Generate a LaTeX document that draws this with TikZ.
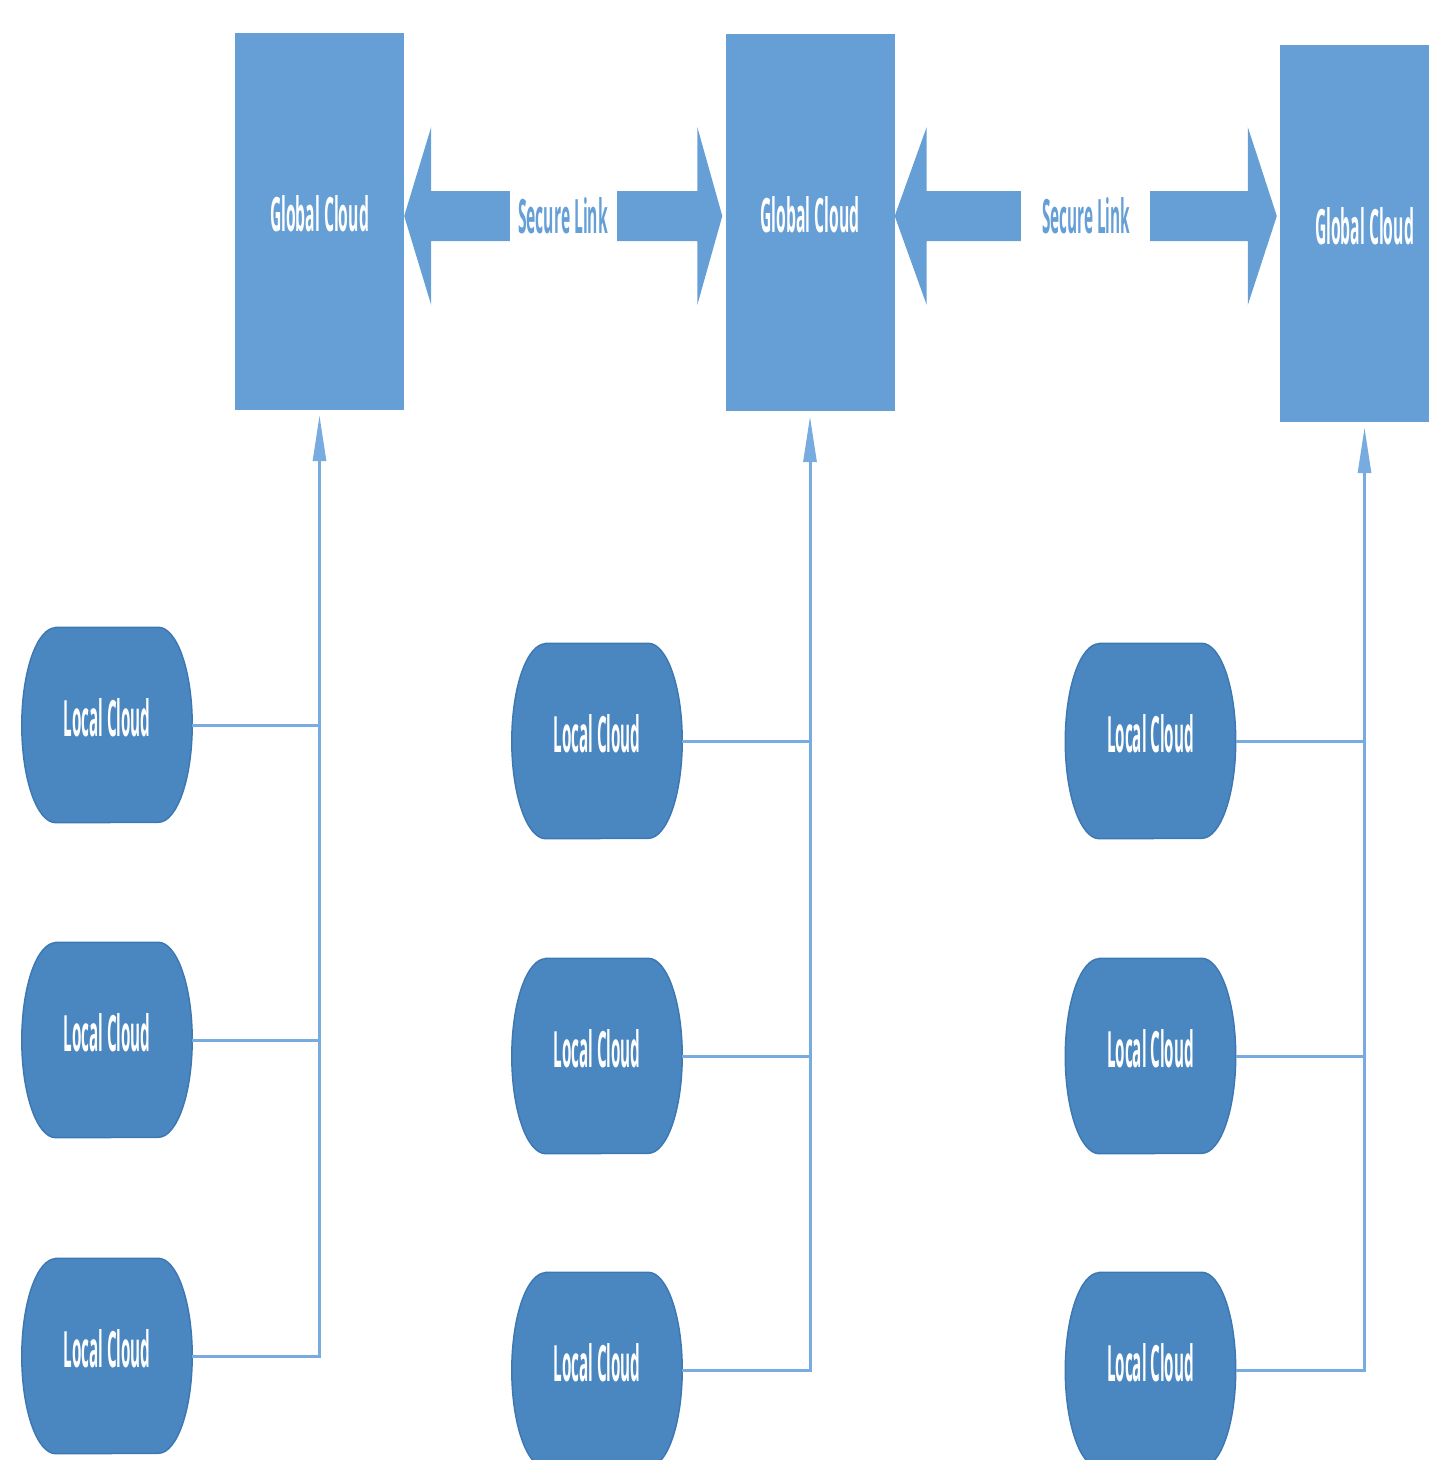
\documentclass[tikz,border=0pt]{standalone}
\usepackage{graphicx}
\usepackage{fontspec}
\newfontfamily\labfont{Open Sans}
\usetikzlibrary{arrows.meta,calc,backgrounds}
\definecolor{gbox}{HTML}{659FD6}
\definecolor{lfill}{HTML}{4A87C0}
\definecolor{lborder}{HTML}{3D78B2}
\definecolor{connc}{HTML}{78ACE0}
\newcommand{\boxtxt}[3]{\resizebox{#1pt}{#2pt}{\labfont\bfseries #3}\rule[-16pt]{0pt}{16pt}}
\newcommand{\linktxt}[2]{\resizebox{#1pt}{36pt}{\labfont\bfseries #2}}
\tikzset{
  gcloud/.style={rectangle, fill=gbox, minimum width=169pt, minimum height=377pt, inner sep=0pt, text=white},
  lcloud/.style={rectangle, minimum width=170pt, minimum height=195pt, inner sep=0pt, text=white},
  lcshape/.style={fill=lfill, draw=lborder, line width=1.5pt},
  linklabel/.style={inner sep=0pt, text=gbox},
  linkarrow/.style={fill=gbox},
  feed/.style={draw=connc, line width=3pt},
  feedarrow/.style={feed, -{Triangle[length=46pt,width=13pt]}, shorten >=5pt},
}
\begin{document}
\begin{tikzpicture}[x=1pt,y=-1pt]
\useasboundingbox (0,0) rectangle (1428,1460);

% global clouds
\node[gcloud] (G1) at (319.5,221.5) {\boxtxt{99}{36}{Global Cloud}};
\node[gcloud] (G2) at (810,222.5) {\boxtxt{99}{36}{Global Cloud}};
\node[gcloud] (G3) at (1364.5,233.5) {\boxtxt{99}{37}{Global Cloud}};

% secure link labels
\node[linklabel] (S1) at (563,216) {\linktxt{90}{Secure Link}};
\node[linklabel] (S2) at (1086,216) {\linktxt{88}{Secure Link}};

% secure link arrows
\coordinate (t1) at (G1.east |- S1.center);
\coordinate (g2w) at (G2.west |- S1.center);
\coordinate (t2) at ([xshift=-3pt]g2w);
\coordinate (t3) at (G2.east |- S2.center);
\coordinate (g3w) at (G3.west |- S2.center);
\coordinate (t4) at ([xshift=-3pt]g3w);

\fill[linkarrow] (t1) -- ($(t1)+(27,-89)$) -- ($(t1)+(27,-25)$) -- ($(S1.west)+(-8,-25)$)
  -- ($(S1.west)+(-8,25)$) -- ($(t1)+(27,25)$) -- ($(t1)+(27,89)$) -- cycle;
\fill[linkarrow] (t2) -- ($(t2)+(-25,-89)$) -- ($(t2)+(-25,-25)$) -- ($(S1.east)+(9,-25)$)
  -- ($(S1.east)+(9,25)$) -- ($(t2)+(-25,25)$) -- ($(t2)+(-25,89)$) -- cycle;
\fill[linkarrow] (t3) -- ($(t3)+(32,-89)$) -- ($(t3)+(32,-25)$) -- ($(S2.west)+(-21,-25)$)
  -- ($(S2.west)+(-21,25)$) -- ($(t3)+(32,25)$) -- ($(t3)+(32,89)$) -- cycle;
\fill[linkarrow] (t4) -- ($(t4)+(-29,-89)$) -- ($(t4)+(-29,-25)$) -- ($(S2.east)+(20,-25)$)
  -- ($(S2.east)+(20,25)$) -- ($(t4)+(-29,25)$) -- ($(t4)+(-29,89)$) -- cycle;

% local clouds
\node[lcloud] (L11) at (107,725)  {\boxtxt{87}{38}{Local Cloud}};
\node[lcloud] (L12) at (107,1040) {\boxtxt{87}{38}{Local Cloud}};
\node[lcloud] (L13) at (107,1356) {\boxtxt{87}{38}{Local Cloud}};
\node[lcloud] (L21) at (597,741)  {\boxtxt{87}{38}{Local Cloud}};
\node[lcloud] (L22) at (597,1056) {\boxtxt{87}{38}{Local Cloud}};
\node[lcloud] (L23) at (597,1370) {\boxtxt{87}{38}{Local Cloud}};
\node[lcloud] (L31) at (1150.5,741)  {\boxtxt{87}{38}{Local Cloud}};
\node[lcloud] (L32) at (1150.5,1056) {\boxtxt{87}{38}{Local Cloud}};
\node[lcloud] (L33) at (1150.5,1370) {\boxtxt{87}{38}{Local Cloud}};

\begin{scope}[on background layer]
\foreach \n in {L11,L12,L13,L21,L22,L23,L31,L32,L33}
  \filldraw[lcshape] ([xshift=34pt]\n.north west) -- ([xshift=-34pt]\n.north east)
    arc[start angle=90, end angle=-90, x radius=34pt, y radius=97.5pt]
    -- ([xshift=34pt]\n.south west)
    arc[start angle=270, end angle=90, x radius=34pt, y radius=97.5pt] -- cycle;
\end{scope}

% connectors
\draw[feedarrow] (L13.east) -| (G1.south);
\draw[feed] (L11.east) -- (L11.east -| G1.south);
\draw[feed] (L12.east) -- (L12.east -| G1.south);

\draw[feedarrow] (L23.east) -| (G2.south);
\draw[feed] (L21.east) -- (L21.east -| G2.south);
\draw[feed] (L22.east) -- (L22.east -| G2.south);

\draw[feedarrow] (L33.east) -| (G3.south);
\draw[feed] (L31.east) -- (L31.east -| G3.south);
\draw[feed] (L32.east) -- (L32.east -| G3.south);
\end{tikzpicture}
\end{document}
